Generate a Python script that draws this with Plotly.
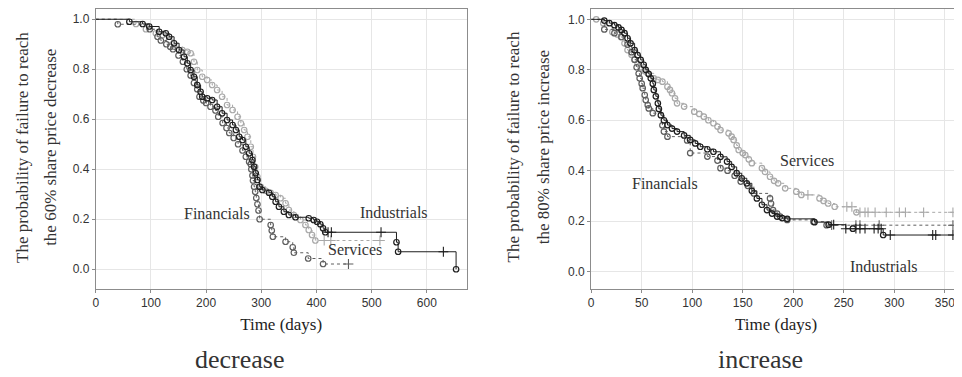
import plotly.graph_objects as go

# ---------------- DATA: decrease panel ----------------
dec_fin_t = [40, 98, 112, 118, 128, 135, 140, 150, 158, 165, 172, 178, 184, 188, 195, 200, 208, 217,
             222, 230, 237, 242, 250, 258, 266, 272, 278, 281, 282, 284, 285, 287, 289, 291, 293, 295,
             297, 317, 319, 321, 344, 357, 359, 385, 412]
dec_fin_s = [0.98, 0.96, 0.93, 0.915, 0.90, 0.89, 0.88, 0.855, 0.83, 0.80, 0.775, 0.745, 0.72, 0.69,
             0.675, 0.665, 0.65, 0.635, 0.61, 0.585, 0.565, 0.545, 0.525, 0.50, 0.475, 0.45, 0.43, 0.42,
             0.40, 0.375, 0.355, 0.33, 0.31, 0.285, 0.26, 0.235, 0.20, 0.177, 0.155, 0.13, 0.11, 0.088,
             0.066, 0.043, 0.021]
dec_fin_ct = [458]
dec_fin_cs = [0.021]

dec_ind_t = [61, 85, 97, 115, 127, 133, 142, 151, 160, 166, 172, 178, 184, 190, 193, 202, 211, 220,
             229, 238, 248, 254, 260, 266, 272, 278, 284, 287, 290, 293, 297, 302, 314, 320, 326, 332,
             341, 350, 362, 386, 395, 401, 407, 412, 416, 545, 548, 653]
dec_ind_s = [0.99, 0.981, 0.971, 0.95, 0.944, 0.93, 0.904, 0.877, 0.85, 0.824, 0.797, 0.77, 0.737,
             0.71, 0.69, 0.684, 0.677, 0.65, 0.624, 0.597, 0.577, 0.557, 0.53, 0.517, 0.49, 0.464,
             0.437, 0.41, 0.384, 0.357, 0.33, 0.317, 0.306, 0.29, 0.27, 0.25, 0.23, 0.217, 0.208,
             0.204, 0.197, 0.19, 0.18, 0.164, 0.148, 0.108, 0.07, 0.0]
dec_ind_ct = [421, 427, 517, 630]
dec_ind_cs = [0.148, 0.148, 0.148, 0.07]

dec_ser_t = [73, 91, 109, 121, 133, 142, 157, 166, 172, 178, 184, 193, 202, 211, 220, 229, 238, 248,
             257, 263, 269, 275, 281, 285, 289, 293, 299, 308, 317, 326, 335, 344, 350, 359, 371, 380,
             386, 392, 398]
dec_ser_s = [0.981, 0.96, 0.944, 0.937, 0.917, 0.89, 0.877, 0.87, 0.864, 0.83, 0.797, 0.77, 0.757,
             0.737, 0.717, 0.69, 0.657, 0.637, 0.61, 0.584, 0.557, 0.53, 0.49, 0.45, 0.41, 0.37, 0.33,
             0.314, 0.306, 0.297, 0.284, 0.264, 0.237, 0.217, 0.197, 0.177, 0.157, 0.137, 0.115]
dec_ser_ct = [414, 426, 515]
dec_ser_cs = [0.115, 0.115, 0.115]

# ---------------- DATA: increase panel ----------------
inc_fin_t = [13, 23, 30, 36, 40, 43, 45, 47, 48, 50, 51, 53, 54, 56, 57, 61, 70.5, 72, 75.5, 95, 98,
             115, 125, 128, 135, 142, 148, 155, 161, 177, 178, 180, 184, 187, 194, 220, 233]
inc_fin_s = [0.96, 0.945, 0.93, 0.90, 0.87, 0.84, 0.81, 0.785, 0.766, 0.745, 0.727, 0.70, 0.68, 0.66,
             0.647, 0.628, 0.58, 0.555, 0.535, 0.52, 0.47, 0.456, 0.44, 0.41, 0.40, 0.38, 0.357, 0.34,
             0.31, 0.29, 0.27, 0.244, 0.23, 0.218, 0.205, 0.198, 0.184]
inc_fin_ct = [238, 262, 266, 285, 358]
inc_fin_cs = [0.184, 0.184, 0.184, 0.184, 0.184]

inc_ind_t = [13, 18, 23, 27, 30, 33, 36, 39, 43, 46, 49, 52, 54, 57, 59, 61, 62, 64, 66, 67, 69, 72,
             75.5, 80, 85, 92, 98, 103, 108, 115, 121, 128, 134.5, 139, 144, 149, 154, 159, 164, 169,
             174, 179, 184, 189, 194, 221, 235, 259, 289]
inc_ind_s = [0.995, 0.985, 0.977, 0.968, 0.958, 0.945, 0.925, 0.905, 0.878, 0.858, 0.839, 0.82, 0.80,
             0.783, 0.766, 0.745, 0.72, 0.695, 0.667, 0.645, 0.62, 0.60, 0.581, 0.567, 0.555, 0.54,
             0.522, 0.508, 0.495, 0.485, 0.475, 0.455, 0.436, 0.415, 0.39, 0.37, 0.35, 0.32, 0.29,
             0.265, 0.244, 0.23, 0.218, 0.212, 0.209, 0.196, 0.186, 0.17, 0.145]
inc_ind_ct = [240, 252, 262, 266, 271, 280, 284, 287, 296, 338, 341, 358]
inc_ind_cs = [0.186, 0.17, 0.17, 0.17, 0.17, 0.17, 0.17, 0.17, 0.145, 0.145, 0.145, 0.145]

inc_ser_t = [5, 12, 21, 26, 29.5, 33, 36, 40, 43, 46, 49, 53, 56, 62, 66, 70.5, 75.5, 78, 80, 83, 85,
             92, 102, 107, 111.5, 116, 121, 125, 128, 136, 139, 141, 144, 146, 150, 152.5, 156, 159,
             169, 172, 177, 181, 185, 192, 203, 208, 226, 230, 234.5, 241, 262.5]
inc_ser_s = [1.0, 0.985, 0.95, 0.94, 0.93, 0.905, 0.878, 0.86, 0.84, 0.825, 0.81, 0.795, 0.786, 0.766,
             0.76, 0.753, 0.733, 0.72, 0.707, 0.687, 0.667, 0.654, 0.634, 0.625, 0.614, 0.60, 0.588,
             0.575, 0.561, 0.548, 0.535, 0.522, 0.50, 0.482, 0.47, 0.462, 0.445, 0.43, 0.41, 0.395,
             0.376, 0.36, 0.35, 0.33, 0.317, 0.304, 0.29, 0.28, 0.27, 0.257, 0.235]
inc_ser_ct = [214.5, 253, 258, 266, 271, 274, 281, 292, 305, 311, 329, 358]
inc_ser_cs = [0.304, 0.257, 0.257, 0.235, 0.235, 0.235, 0.235, 0.235, 0.235, 0.235, 0.235, 0.235]

# ---------------- STYLE ----------------
COL_FIN = "#5e5e5e"
COL_IND = "#1e1e1e"
COL_SER = "#a8a8a8"
SERIF = "Liberation Serif, Times New Roman, serif"
SANS = "Liberation Sans, Arial, sans-serif"

# page body has an 8px margin: figure is placed at (8, 8) in the window
OFF = 8
W, H = 954, 369


def px(x):
    return (x - OFF) / W


def py(y):
    return 1 - (y - OFF) / H


fig = go.Figure()


def add_series(t, s, ct, cs, color, dash, xa, ya):
    pts = sorted(list(zip(t, s)) + list(zip(ct, cs)), key=lambda p: p[0])
    lx = [0] + [p[0] for p in pts]
    ly = [1.0] + [p[1] for p in pts]
    fig.add_trace(go.Scatter(x=lx, y=ly, mode="lines", line=dict(color=color, width=1, dash=dash, shape="hv"),
                             xaxis=xa, yaxis=ya, showlegend=False, hoverinfo="skip"))
    fig.add_trace(go.Scatter(x=t, y=s, mode="markers",
                             marker=dict(symbol="circle-open", size=5.5, color=color, line=dict(width=1.2, color=color)),
                             xaxis=xa, yaxis=ya, showlegend=False))
    fig.add_trace(go.Scatter(x=ct, y=cs, mode="markers",
                             marker=dict(symbol="line-ns-open", size=7, color=color, line=dict(width=1.1, color=color)),
                             xaxis=xa, yaxis=ya, showlegend=False))
    fig.add_trace(go.Scatter(x=ct, y=cs, mode="markers",
                             marker=dict(symbol="line-ew-open", size=7, color=color, line=dict(width=1.1, color=color)),
                             xaxis=xa, yaxis=ya, showlegend=False))


# decrease panel (left)
add_series(dec_ser_t, dec_ser_s, dec_ser_ct, dec_ser_cs, COL_SER, "dot", "x", "y")
add_series(dec_fin_t, dec_fin_s, dec_fin_ct, dec_fin_cs, COL_FIN, "dot", "x", "y")
add_series(dec_ind_t, dec_ind_s, dec_ind_ct, dec_ind_cs, COL_IND, "solid", "x", "y")
# increase panel (right)
add_series(inc_ser_t, inc_ser_s, inc_ser_ct, inc_ser_cs, COL_SER, "dot", "x2", "y2")
add_series(inc_fin_t, inc_fin_s, inc_fin_ct, inc_fin_cs, COL_FIN, "dot", "x2", "y2")
add_series(inc_ind_t, inc_ind_s, inc_ind_ct, inc_ind_cs, COL_IND, "solid", "x2", "y2")

axis_common = dict(showgrid=True, gridcolor="#e6e6e6", gridwidth=1, zeroline=False,
                   showline=True, linecolor="#8c8c8c", linewidth=1, mirror=True,
                   ticks="outside", ticklen=3, tickcolor="#8c8c8c",
                   tickfont=dict(family=SANS, size=12, color="#333"))

fig.update_layout(
    width=W, height=H, margin=dict(l=0, r=0, t=0, b=0),
    paper_bgcolor="white", plot_bgcolor="white",
    xaxis=dict(domain=[px(93), px(465)], range=[0, 672], dtick=100, anchor="y",
               title=dict(text="Time (days)", font=dict(family=SERIF, size=17, color="#222"), standoff=8),
               **axis_common),
    yaxis=dict(domain=[py(289), py(9)], range=[-0.079, 1.041], dtick=0.2, tickformat=".1f",
               anchor="x", **axis_common),
    xaxis2=dict(domain=[px(590), px(961)], range=[0, 366], dtick=50, anchor="y2",
                title=dict(text="Time (days)", font=dict(family=SERIF, size=17, color="#222"), standoff=8),
                **axis_common),
    yaxis2=dict(domain=[py(289), py(9)], range=[-0.069, 1.041], dtick=0.2, tickformat=".1f",
                anchor="x2", **axis_common),
)

ann = []


def txt(x, y, text, size, angle=0):
    ann.append(dict(x=px(x), y=py(y), xref="paper", yref="paper", text=text, showarrow=False, textangle=angle,
                    font=dict(family=SERIF, size=size, color="#333"), xanchor="center", yanchor="middle"))


# y-axis titles (two lines each)
txt(20, 147, "The probability of failure to reach", 17, angle=-90)
txt(48, 147, "the 60% share price decrease", 17, angle=-90)
txt(513, 147, "The probability of failure to reach", 17, angle=-90)
txt(543, 147, "the 80% share price increase", 17, angle=-90)
# captions
txt(237, 359, "decrease", 26)
txt(760, 359, "increase", 26)
# series labels
txt(215, 213, "Financials", 16)
txt(392, 212, "Industrials", 16)
txt(353, 249, "Services", 16)
txt(807, 161, "Services", 16)
txt(664, 183, "Financials", 16)
txt(884, 266, "Industrials", 16)
fig.update_layout(annotations=ann)

fig.write_html("out.html")
